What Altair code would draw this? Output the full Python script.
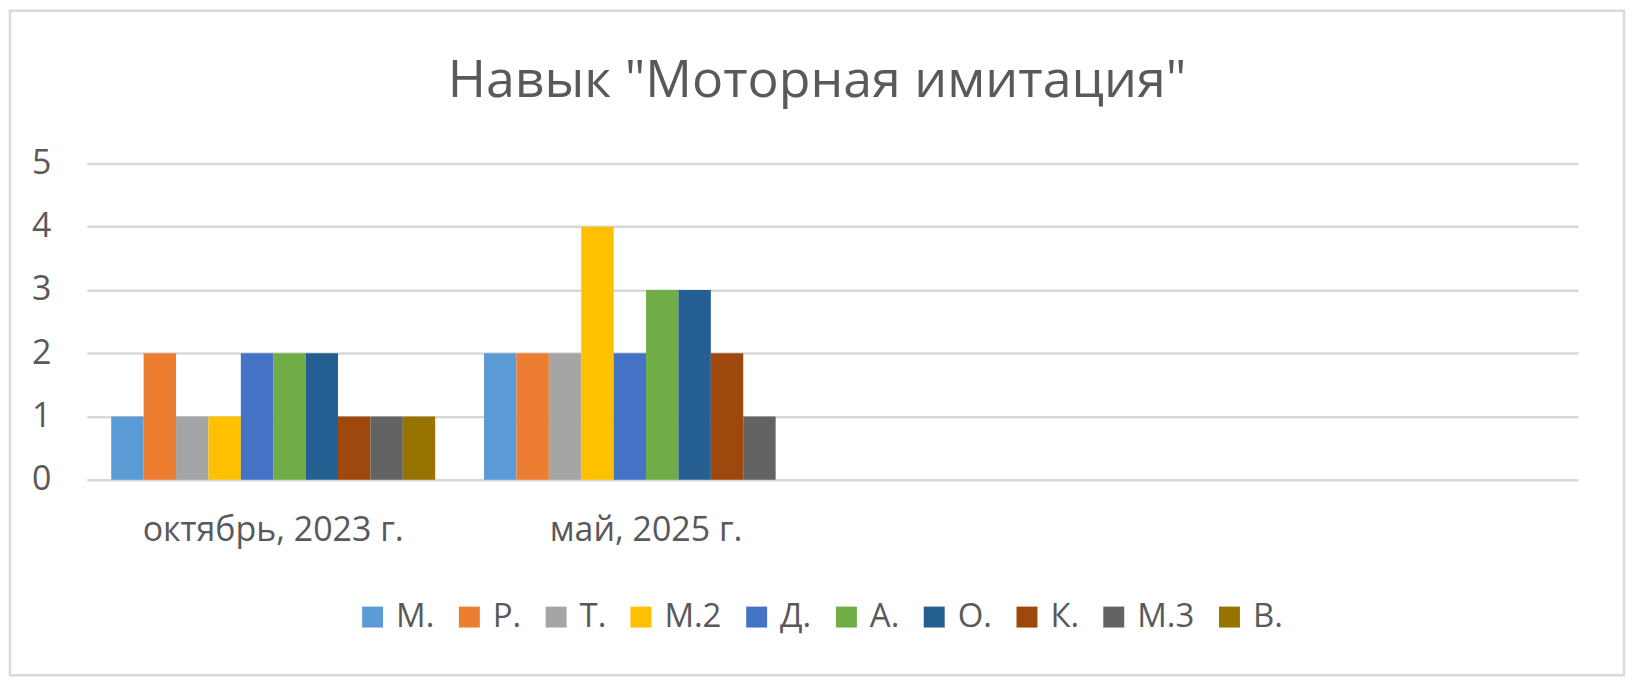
import pandas as pd
import altair as alt

# chart text
title_text = 'Навык "Моторная имитация"'

# categories on the x axis (the last two are empty columns in the original sheet)
categories = ["октябрь, 2023 г.", "май, 2025 г.", " ", "  "]

# children (series)
series = ["М.", "Р.", "Т.", "М.2", "Д.", "А.", "О.", "К.", "М.3", "В."]
colors = ["#5B9BD5", "#ED7D31", "#A5A5A5", "#FFC000", "#4472C4",
          "#70AD47", "#255E91", "#9E480E", "#636363", "#997300"]

# scores per period
oct_2023 = [1, 2, 1, 1, 2, 2, 2, 1, 1, 1]
may_2025 = [2, 2, 2, 4, 2, 3, 3, 2, 1, 0]

rows = []
for cat, vals in [(categories[0], oct_2023), (categories[1], may_2025)]:
    for s, v in zip(series, vals):
        rows.append({"period": cat, "child": s, "score": v})
df = pd.DataFrame(rows)

FONT = "Open Sans"
GREY = "#595959"

bars = alt.Chart(df).mark_bar().encode(
    x=alt.X(
        "period:N",
        sort=categories,
        scale=alt.Scale(domain=categories, paddingInner=0, paddingOuter=0),
        axis=alt.Axis(title=None, labelAngle=0, ticks=False, domain=False,
                      labelPadding=34, labelFontSize=34, labelColor=GREY,
                      labelFont=FONT, labelLimit=0),
    ),
    xOffset=alt.XOffset("child:N", sort=series,
                        scale=alt.Scale(domain=series, paddingInner=0, paddingOuter=0.754)),
    y=alt.Y(
        "score:Q",
        scale=alt.Scale(domain=[0, 5], nice=False),
        axis=alt.Axis(title=None, values=[0, 1, 2, 3, 4, 5], ticks=False, domain=False,
                      labelPadding=36, labelFontSize=34, labelColor=GREY, labelFont=FONT,
                      gridColor="#D9D9D9", gridWidth=2.5),
    ),
    color=alt.Color(
        "child:N",
        sort=series,
        scale=alt.Scale(domain=series, range=colors),
        legend=alt.Legend(title=None, orient="none", direction="horizontal", columns=10,
                          legendX=270, legendY=438, symbolType="square", symbolSize=441,
                          symbolStrokeWidth=0, symbolOpacity=1, labelFontSize=33,
                          labelColor=GREY, labelFont=FONT, columnPadding=18,
                          labelOffset=7, labelLimit=0),
    ),
)

# chart title drawn as text so the frame can wrap everything
title = alt.Chart(alt.Data(values=[{}])).mark_text(
    fontSize=52, font=FONT, color=GREY, align="center", baseline="alphabetic"
).encode(x=alt.value(732), y=alt.value(-67), text=alt.value(title_text))

# outer frame of the Excel chart
frame = alt.Chart(alt.Data(values=[{}])).mark_rect(
    fill="transparent", stroke="#D9D9D9", strokeWidth=2.5
).encode(x=alt.value(-77), x2=alt.value(1541), y=alt.value(-153), y2=alt.value(513))

chart = alt.layer(frame, bars, title).properties(
    width=1495, height=317, padding=0
).configure_view(stroke=None)

chart.save("out.html", embed_options={"renderer": "svg", "actions": False})
